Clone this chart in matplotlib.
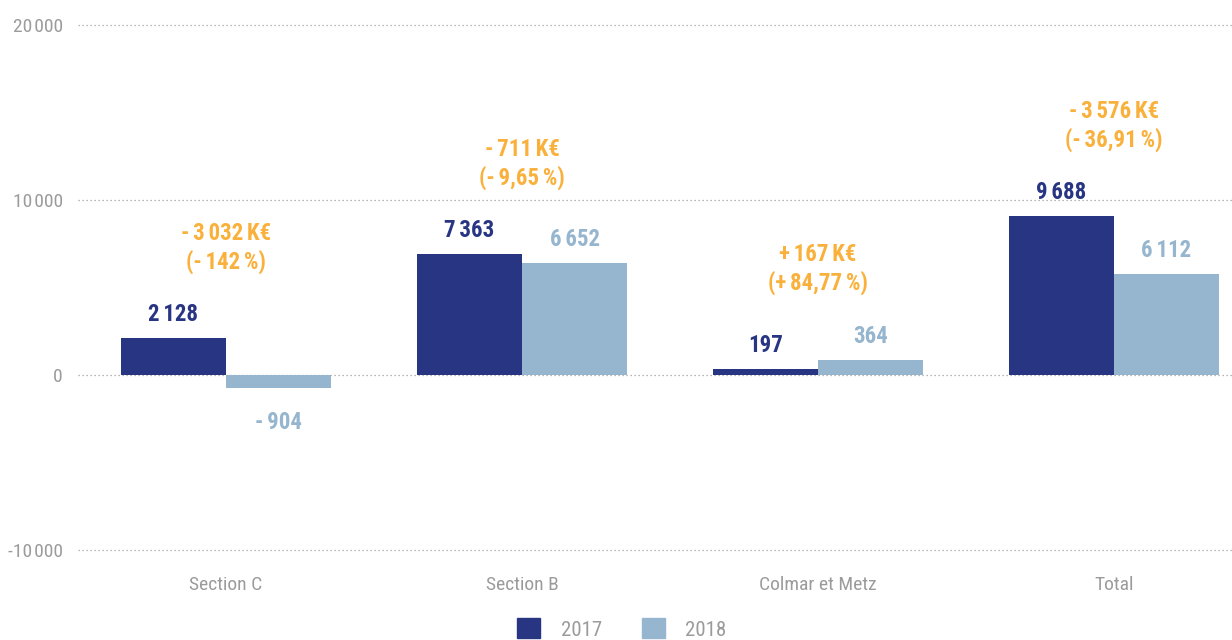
import numpy as np
import matplotlib
matplotlib.use('Agg')
import matplotlib.pyplot as plt
from matplotlib import font_manager as fm
from matplotlib.patches import Patch

## Police étroite si disponible
noms = {f.name for f in fm.fontManager.ttflist}
police = None
for cand in ['Liberation Sans Narrow', 'Roboto Condensed', 'Open Sans Condensed', 'Arial Narrow']:
    if cand in noms:
        police = cand
        break
if police is None:
    police = 'DejaVu Sans'
    plt.rcParams['font.stretch'] = 'condensed'
plt.rcParams['font.family'] = [police, 'DejaVu Sans']

## Données
categories = ['Section C', 'Section B', 'Colmar et Metz', 'Total']
annees = ['2017', '2018']
barres_2017 = [2114, 6914, 360, 9086]      # hauteur des barres telle que dessinée
barres_2018 = [-726, 6400, 874, 5789]
valeurs_2017 = [2128, 7363, 197, 9688]     # valeurs affichées
valeurs_2018 = [-904, 6652, 364, 6112]
ecart_keur = [-3032, -711, 167, -3576]
ecart_pct = ['142', '9,65', '84,77', '36,91']
yticks = [-10000, 0, 10000, 20000]

BLEU = '#283583'
BLEU_CLAIR = '#95b6ce'
ORANGE = '#f9b13c'
GRIS = '#9b9b9b'
ESP = '\u2006'

def fmt(v):
    s = f'{abs(v):,}'.replace(',', ESP)
    return ('-' + ESP + s) if v < 0 else s

def fmt_tick(v):
    s = f'{abs(v):,}'.replace(',', '\u200a')
    return ('-' + s) if v < 0 else s

fig = plt.figure(figsize=(12.32, 6.4), dpi=100)
ax = fig.add_axes([78 / 1232, 0.1270, 1184 / 1232, 0.8477])

x = np.arange(len(categories))
w = 0.355
ax.bar(x - w / 2, barres_2017, w, color=BLEU, zorder=2)
ax.bar(x + w / 2, barres_2018, w, color=BLEU_CLAIR, zorder=2)

ax.set_xlim(-0.5, 3.5)
ax.set_ylim(-10500, 20500)
ax.set_yticks(yticks)
ax.set_yticklabels([fmt_tick(t) for t in yticks])
ax.set_xticks(x)
ax.set_xticklabels(categories)
ax.tick_params(axis='both', length=0, colors=GRIS, labelsize=14)
ax.tick_params(axis='y', pad=11)
ax.tick_params(axis='x', pad=12.5)
for s in ax.spines.values():
    s.set_visible(False)
ax.yaxis.grid(True, color='#a0a0a0', linestyle=(0, (1, 2.2)), linewidth=0.9)
ax.set_axisbelow(True)

# étiquettes des barres
for xs, barres, valeurs, c in [(x - w / 2, barres_2017, valeurs_2017, BLEU),
                               (x + w / 2, barres_2018, valeurs_2018, BLEU_CLAIR)]:
    for xi, b, v in zip(xs, barres, valeurs):
        dy = 17 if b >= 0 else -25
        ax.annotate(fmt(v), (xi, b), xytext=(0, dy), textcoords='offset points',
                    ha='center', va='center', fontsize=16.5, fontweight='bold', color=c)

# écarts
for xi, b1v, b2v, e, p in zip(x, barres_2017, barres_2018, ecart_keur, ecart_pct):
    signe = '-' if e < 0 else '+'
    txt = f'{signe}{ESP}{fmt(abs(e))}{ESP}K€\n({signe}{ESP}{p}{ESP}%)'
    ax.annotate(txt, (xi, max(b1v, b2v)), xytext=(0, 65), textcoords='offset points',
                ha='center', va='center', fontsize=16.5, fontweight='bold',
                color=ORANGE, linespacing=1.25)

handles = [Patch(color=BLEU), Patch(color=BLEU_CLAIR)]
fig.legend(handles, annees, loc='center', bbox_to_anchor=(622 / 1232, 1 - 629 / 640),
           ncol=2, frameon=False, fontsize=15, labelcolor=GRIS,
           handlelength=1.1, handleheight=1.1, handletextpad=1.0, columnspacing=1.9)

fig.savefig('out.png', dpi=100)
